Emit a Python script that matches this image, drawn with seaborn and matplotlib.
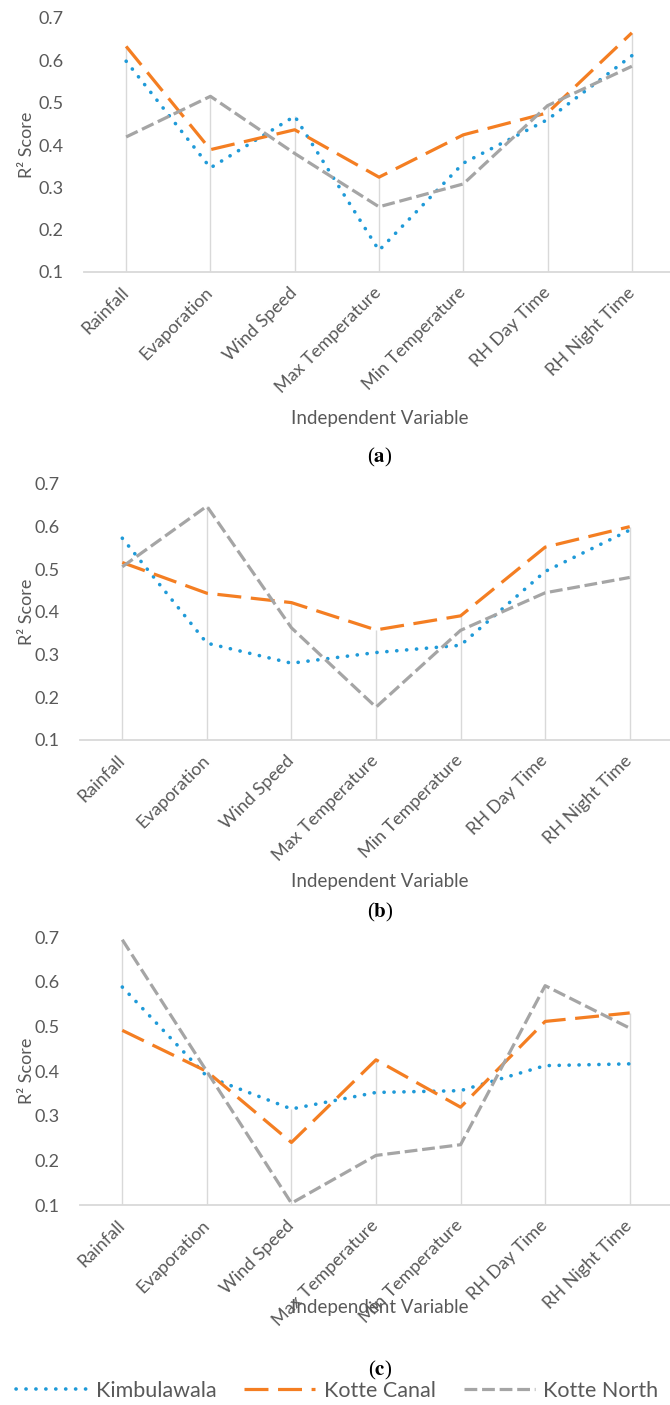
import pandas as pd
import matplotlib
matplotlib.use("Agg")
import matplotlib.pyplot as plt
from matplotlib.lines import Line2D
import seaborn as sns

# Values
variables = ["Rainfall", "Evaporation", "Wind Speed", "Max Temperature",
             "Min Temperature", "RH Day Time", "RH Night Time"]
sites = ["Kimbulawala", "Kotte Canal", "Kotte North"]

kimbulawala_a = [0.598, 0.346, 0.468, 0.151, 0.357, 0.460, 0.611]
kotte_canal_a = [0.633, 0.389, 0.436, 0.324, 0.424, 0.476, 0.665]
kotte_north_a = [0.419, 0.515, 0.380, 0.254, 0.308, 0.493, 0.586]

kimbulawala_b = [0.573, 0.327, 0.280, 0.305, 0.322, 0.495, 0.592]
kotte_canal_b = [0.516, 0.444, 0.422, 0.358, 0.391, 0.552, 0.600]
kotte_north_b = [0.506, 0.648, 0.363, 0.177, 0.357, 0.445, 0.481]

kimbulawala_c = [0.588, 0.388, 0.315, 0.352, 0.356, 0.412, 0.416]
kotte_canal_c = [0.491, 0.399, 0.240, 0.425, 0.319, 0.511, 0.530]
kotte_north_c = [0.694, 0.399, 0.104, 0.211, 0.235, 0.591, 0.496]

panel_labels = ["a", "b", "c"]
y_ticks = [0.1, 0.2, 0.3, 0.4, 0.5, 0.6, 0.7]

colors = {"Kimbulawala": "#1F9AD8", "Kotte Canal": "#F47E22", "Kotte North": "#A5A5A5"}
dash_styles = {"Kimbulawala": (0.05, 2.7), "Kotte Canal": (7.5, 3.0), "Kotte North": (4.0, 1.5)}
caps = {"Kimbulawala": "round", "Kotte Canal": "butt", "Kotte North": "butt"}
widths = {"Kimbulawala": 2.6, "Kotte Canal": 2.3, "Kotte North": 2.3}

TEXT = "#595959"
GRID = "#D9D9D9"

sns.set_theme(style="white")
plt.rcParams["font.family"] = ["Lato", "DejaVu Sans"]

W, H = 670, 1405
fig = plt.figure(figsize=(W / 100, H / 100), dpi=100)

# pixel boxes of each plotting area: left, top, right, bottom
boxes = [(84, 18, 674, 272), (80, 484, 672, 740), (80, 937, 672, 1205)]
xlabel_y = [418, 882, 1308]
caption_y = [457, 912, 1370]

panels = [
    (kimbulawala_a, kotte_canal_a, kotte_north_a),
    (kimbulawala_b, kotte_canal_b, kotte_north_b),
    (kimbulawala_c, kotte_canal_c, kotte_north_c),
]

for i, (k, c, n) in enumerate(panels):
    l, t, r, b = boxes[i]
    ax = fig.add_axes([l / W, 1 - b / H, (r - l) / W, (b - t) / H])

    df = pd.DataFrame({"Independent Variable": variables * 3,
                       "R2": k + c + n,
                       "Site": [s for s in sites for _ in variables]})

    # drop lines from the axis up to the highest series value
    tops = df.groupby("Independent Variable", sort=False)["R2"].max()
    ax.vlines(range(len(variables)), 0.1, tops.values, color=GRID, lw=1.0, zorder=1)

    sns.lineplot(data=df, x="Independent Variable", y="R2", hue="Site",
                 palette=colors, sort=False, linewidth=2.3, legend=False, ax=ax, zorder=3)
    for line, s in zip(ax.lines, sites):
        line.set_linewidth(widths[s])
        line.set_dashes(dash_styles[s])
        line.set_dash_capstyle(caps[s])

    ax.set_xlim(-0.5, len(variables) - 0.5)
    ax.set_ylim(0.1, 0.7)
    ax.set_yticks(y_ticks)
    ax.set_yticklabels([f"{v:.1f}" for v in y_ticks], color=TEXT, fontsize=13)
    ax.set_xticks(range(len(variables)))
    ax.set_xticklabels(variables, rotation=45, ha="right", va="center",
                       rotation_mode="anchor", color=TEXT, fontsize=13)
    ax.tick_params(axis="both", length=0)
    ax.tick_params(axis="y", pad=15)
    ax.tick_params(axis="x", pad=13)

    for side in ["top", "right", "left"]:
        ax.spines[side].set_visible(False)
    ax.spines["bottom"].set_color(GRID)
    ax.spines["bottom"].set_linewidth(1.3)

    ax.set_ylabel("R² Score", color=TEXT, fontsize=13)
    ax.yaxis.set_label_coords((35 - l) / (r - l), 0.5)
    ax.set_xlabel("")
    fig.text(380 / W, 1 - xlabel_y[i] / H, "Independent Variable", color=TEXT,
             fontsize=13.5, ha="center", va="center")
    fig.text(380 / W, 1 - caption_y[i] / H, r"($\mathbf{" + panel_labels[i] + r"}$)",
             family="Liberation Serif", math_fontfamily="stix", color="black",
             fontsize=15, ha="center", va="center")

handles = []
for s in sites:
    h = Line2D([], [], color=colors[s], lw=widths[s], dashes=dash_styles[s],
               dash_capstyle=caps[s])
    handles.append(h)
fig.legend(handles, sites, loc="center left", bbox_to_anchor=(16 / W, 1 - 1391 / H),
           ncol=3, frameon=False, fontsize=15.5, handlelength=3.3, handletextpad=0.4,
           columnspacing=1.3, borderpad=0, borderaxespad=0, labelcolor=TEXT)

fig.savefig("out.png", dpi=100)
